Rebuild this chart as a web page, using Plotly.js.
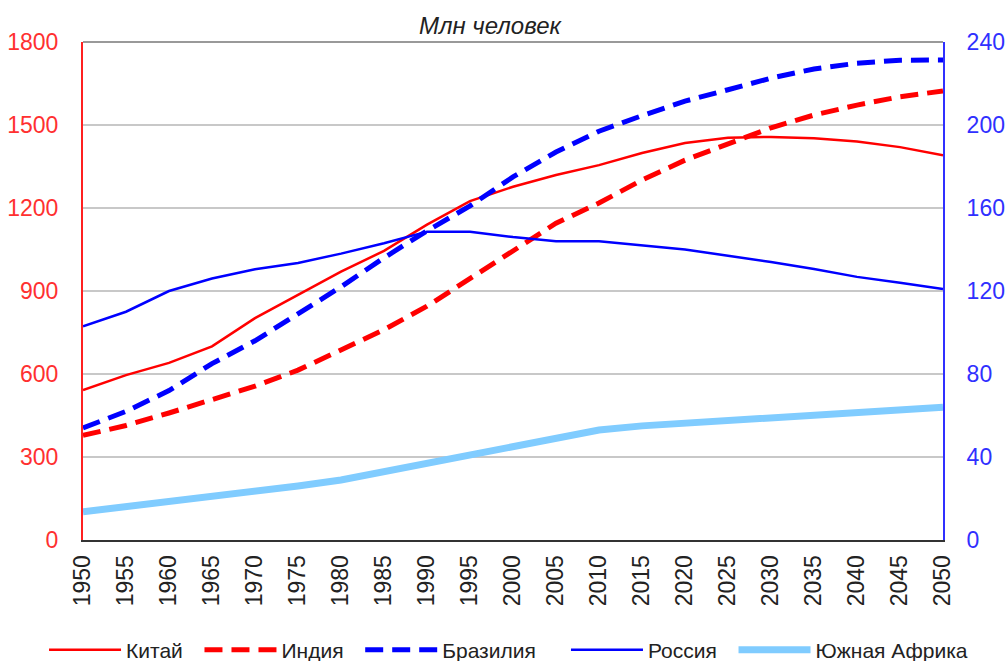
<!DOCTYPE html>
<html>
<head>
<meta charset="utf-8">
<script src="https://cdn.plot.ly/plotly-3.0.1.min.js"></script>
<style>
html,body{margin:0;padding:0;background:#fff;}
#chart{width:1006px;height:661px;}
</style>
</head>
<body>
<div id="chart"></div>
<script>
const years = [1950,1955,1960,1965,1970,1975,1980,1985,1990,1995,2000,2005,2010,2015,2020,2025,2030,2035,2040,2045,2050];
const china = [542,596,640,700,802,885,970,1045,1140,1225,1277,1319,1355,1399,1435,1454,1457,1452,1440,1420,1391];
const india = [378,414,459,506,556,614,687,760,845,945,1050,1145,1218,1301,1373,1430,1490,1536,1572,1602,1623];
const brazil = [54,62,72,85,96,109,122,136,149,161,175,187,197,204.5,211.5,217,222.6,227,229.8,231.2,231.3];
const russia = [103,110,120,126,130.5,133.5,138,143,148.6,148.6,146,144,144,142,140,137,134,130.6,126.8,124,121];
const southAfrica = [13.6,16,18.5,21,23.3,26,28.9,33,37,41,45,49.5,53,55,56.4,57.7,58.9,60.3,61.8,63,64];
const seriesNames = ['Китай','Индия','Бразилия','Россия','Южная Африка'];
const xTicks = [1950,1955,1960,1965,1970,1975,1980,1985,1990,1995,2000,2005,2010,2015,2020,2025,2030,2035,2040,2045,2050];

const pad = '\u00a0\u00a0';
const traces = [
  {x: years, y: china, name: seriesNames[0] + pad, type:'scatter', mode:'lines', yaxis:'y', legend:'legend',
   line:{color:'#ff0000', width:2.5}},
  {x: years, y: india, name: seriesNames[1] + pad, type:'scatter', mode:'lines', yaxis:'y', legend:'legend',
   line:{color:'#ff0000', width:5, dash:'18px,9px'}},
  {x: years, y: brazil, name: seriesNames[2], type:'scatter', mode:'lines', yaxis:'y2', legend:'legend',
   line:{color:'#0000ff', width:5, dash:'18px,9px'}},
  {x: years, y: russia, name: seriesNames[3] + pad, type:'scatter', mode:'lines', yaxis:'y2', legend:'legend2',
   line:{color:'#0000ff', width:2.5}},
  {x: years, y: southAfrica, name: seriesNames[4], type:'scatter', mode:'lines', yaxis:'y2', legend:'legend2',
   line:{color:'#80ccff', width:7}}
];

const legendCommon = {orientation:'h', yanchor:'middle', y:-0.2209, xanchor:'left',
  font:{size:21, color:'#222'}, itemwidth:72, traceorder:'normal', bgcolor:'rgba(0,0,0,0)'};

const layout = {
  width: 1006, height: 661,
  margin: {l:83, r:63, t:42, b:121, autoexpand:false},
  paper_bgcolor:'#ffffff', plot_bgcolor:'#ffffff',
  font: {family:'Liberation Sans, Arial, sans-serif', size:21, color:'#222'},
  title: {text:'<i>Млн человек</i>', x:0.487, xanchor:'center', y:0.962, yanchor:'middle',
          font:{family:'Liberation Sans, Arial, sans-serif', size:24, color:'#222'}},
  showlegend: true,
  legend: Object.assign({}, legendCommon, {x:-0.0453}),
  legend2: Object.assign({}, legendCommon, {x:0.5616}),
  xaxis: {range:[1950,2050], tickmode:'array', tickvals:xTicks, ticktext:xTicks.map(String),
          tickangle:-90, showgrid:false, zeroline:false, showline:true, linecolor:'#333', linewidth:2,
          ticks:'', tickfont:{size:23, color:'#222'}, ticklabelstandoff:4, automargin:false, fixedrange:true},
  yaxis: {range:[0,1800], tickmode:'linear', tick0:0, dtick:300, showgrid:true, gridcolor:'#c8c8c8', gridwidth:1.5,
          zeroline:false, showline:true, linecolor:'#ff2020', linewidth:2, ticks:'', automargin:false,
          tickfont:{size:23, color:'#ff3030'}, ticklabelstandoff:18},
  yaxis2: {range:[0,240], tickmode:'linear', tick0:0, dtick:40, overlaying:'y', side:'right',
           showgrid:false, zeroline:false, showline:true, linecolor:'#3030ff', linewidth:2, ticks:'', automargin:false,
           tickfont:{size:23, color:'#3030ff'}, ticklabelstandoff:17},
  shapes: [
    {type:'line', xref:'paper', yref:'paper', x0:0, x1:1, y0:1, y1:1, line:{color:'#999', width:2}}
  ]
};

Plotly.newPlot('chart', traces, layout, {displayModeBar:false, staticPlot:true});
</script>
</body>
</html>
